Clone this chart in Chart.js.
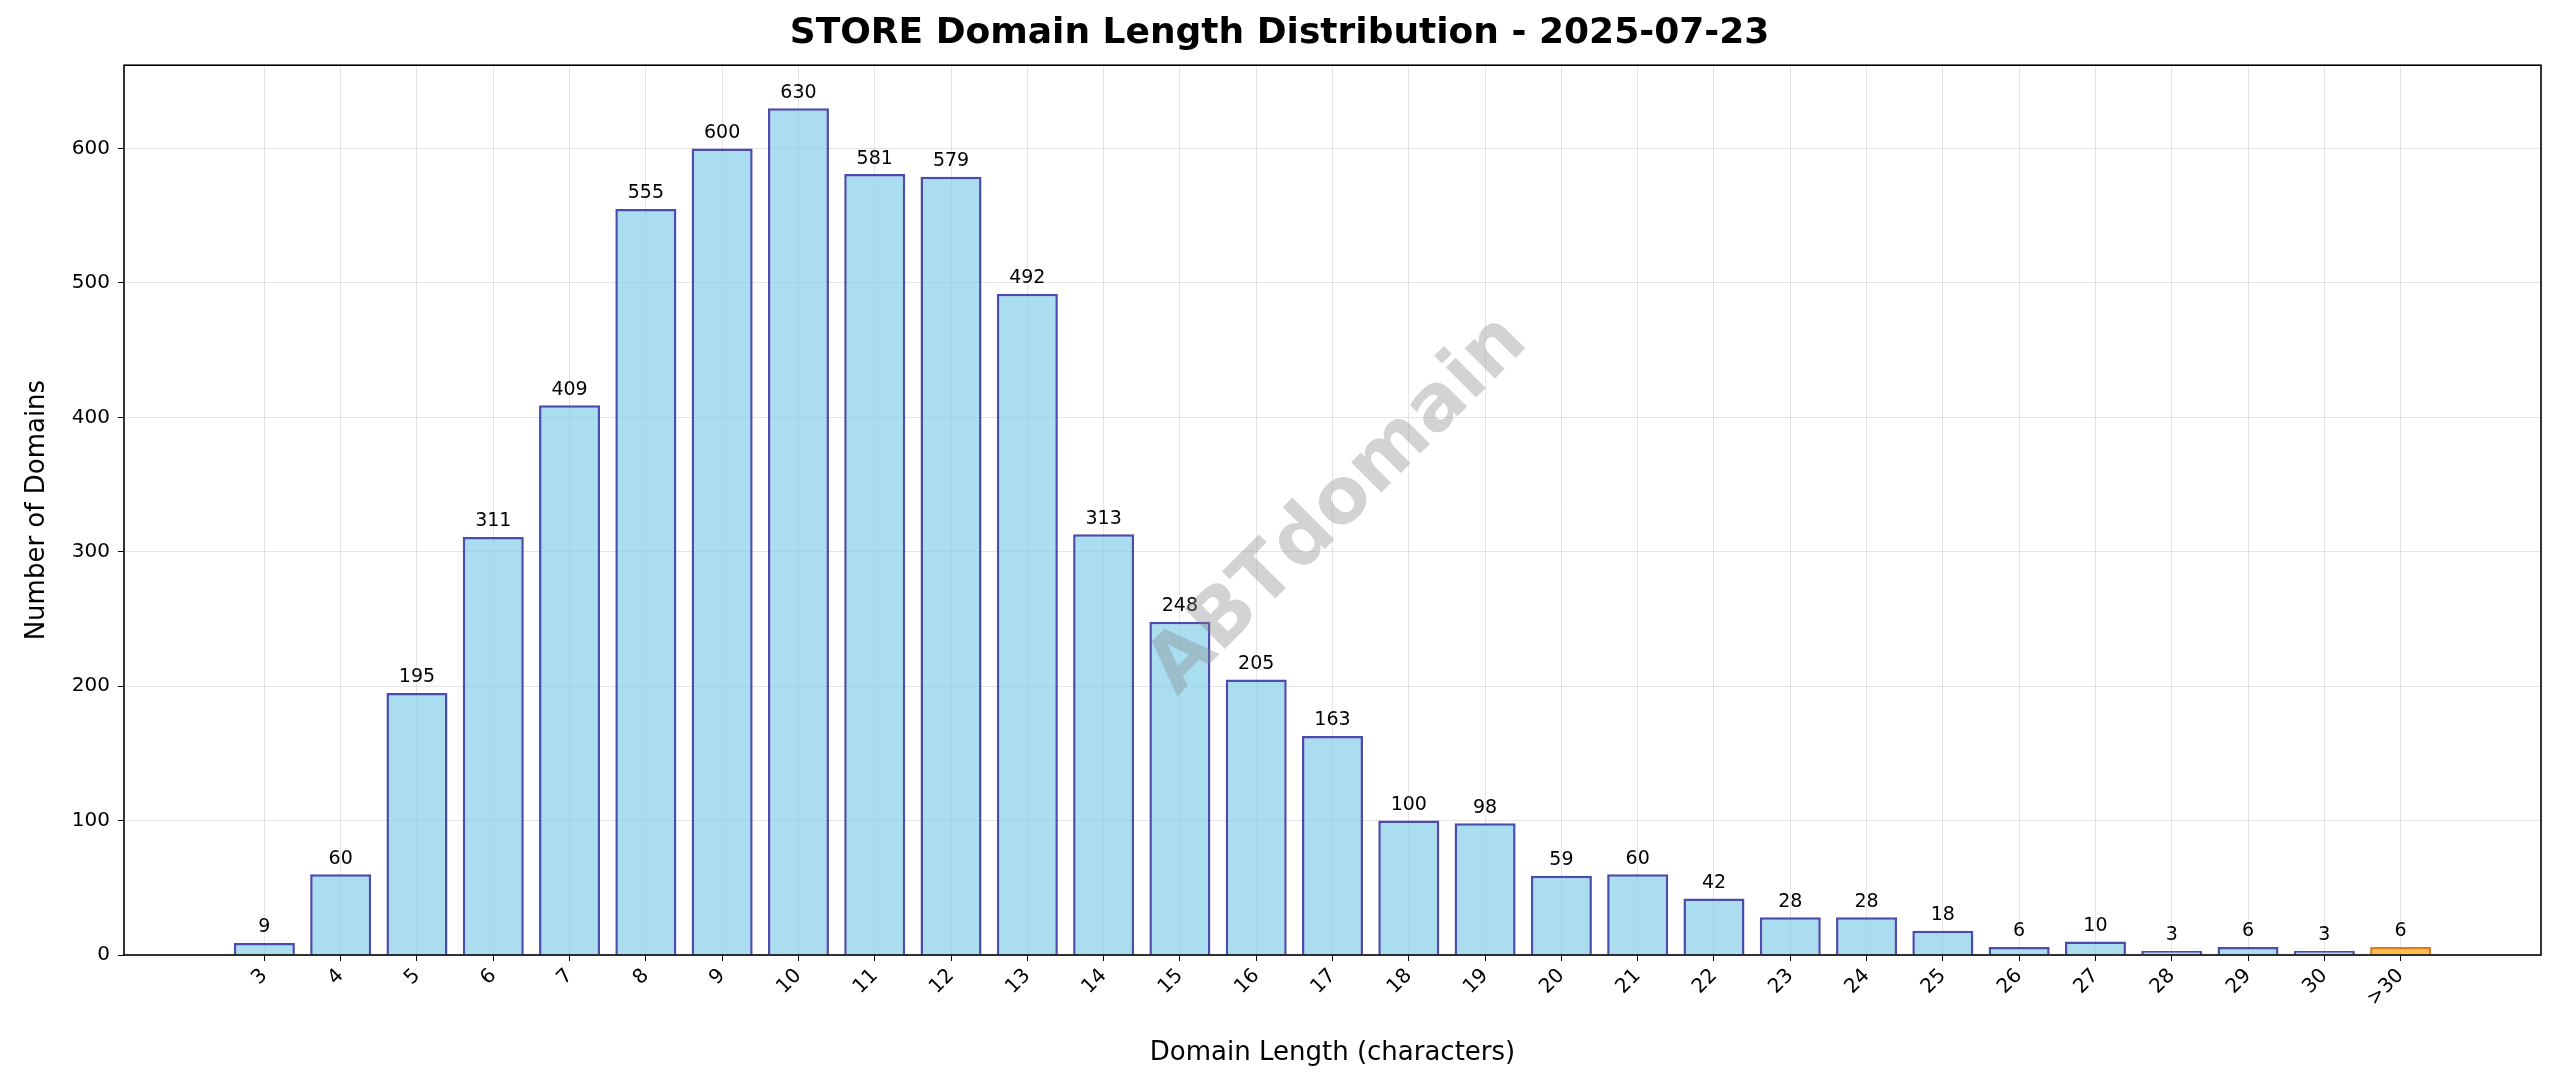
<!DOCTYPE html>
<html><head><meta charset="utf-8">
<script src="https://cdn.jsdelivr.net/npm/chart.js@4/dist/chart.umd.min.js"></script>
<style>html,body{margin:0;padding:0;background:#fff}#w{width:2560px;height:1087px}</style>
</head><body><div id="w"><canvas id="c"></canvas></div>
<script>
const categories = ["3","4","5","6","7","8","9","10","11","12","13","14","15","16","17","18","19","20","21","22","23","24","25","26","27","28","29","30",">30"];
const counts = [9,60,195,311,409,555,600,630,581,579,492,313,248,205,163,100,98,59,60,42,28,28,18,6,10,3,6,3,6];
const yTicks = [0,100,200,300,400,500,600];

const FONT = "'DejaVu Sans', sans-serif";
const fills = categories.map(c => c === ">30" ? "rgba(255,165,0,0.7)" : "rgba(135,206,235,0.7)");
const borders = categories.map(c => c === ">30" ? "rgba(220,110,0,0.9)" : "rgba(0,0,139,0.7)");

const extras = {
  id: "extras",
  afterDatasetsDraw(chart) {
    const ctx = chart.ctx, meta = chart.getDatasetMeta(0);
    ctx.save();
    ctx.fillStyle = "#000";
    ctx.font = "19px " + FONT;
    ctx.textAlign = "center"; ctx.textBaseline = "bottom";
    meta.data.forEach((b, i) => ctx.fillText(String(counts[i]), b.x, b.y - 6));
    ctx.translate(1339, 506);
    ctx.rotate(-Math.PI / 4);
    ctx.font = "bold 78px " + FONT;
    ctx.fillStyle = "rgba(128,128,128,0.35)";
    ctx.textBaseline = "middle";
    ctx.fillText("ABTdomain", 0, 0);
    ctx.restore();
  },
  afterDraw(chart) {
    const a = chart.chartArea, ctx = chart.ctx;
    ctx.save(); ctx.strokeStyle = "#000"; ctx.lineWidth = 1.6;
    ctx.strokeRect(a.left, a.top, a.right - a.left, a.bottom - a.top);
    ctx.restore();
  }
};

new Chart(document.getElementById("c"), {
  type: "bar",
  data: {
    datasets: [{
      data: counts.map((v, i) => ({ x: i, y: v })),
      backgroundColor: fills, borderColor: borders, borderWidth: 2.5,
      barPercentage: 0.8, categoryPercentage: 1.0
    }]
  },
  options: {
    responsive: true, maintainAspectRatio: false, animation: false,
    layout: { padding: { left: 18, right: 19, top: 0, bottom: 14 } },
    plugins: {
      legend: { display: false }, tooltip: { enabled: false },
      title: { display: true, text: "STORE Domain Length Distribution - 2025-07-23",
        font: { family: FONT, size: 36, weight: "bold" }, color: "#000", padding: { top: 12, bottom: 10 } }
    },
    scales: {
      x: {
        type: "linear", min: -1.84, max: 29.84, offset: false,
        afterBuildTicks(s) { s.ticks = categories.map((_, i) => ({ value: i })); },
        afterFit(s) { s.height = 118; },
        ticks: { callback: v => categories[v], maxRotation: 45, minRotation: 45, autoSkip: false,
          font: { family: FONT, size: 20 }, color: "#000" },
        grid: { offset: false, color: "rgba(0,0,0,0.1)", drawTicks: true, tickLength: 6, tickColor: "#000" },
        border: { display: false },
        title: { display: true, text: "Domain Length (characters)", font: { family: FONT, size: 26 }, color: "#000", padding: { top: 4 } }
      },
      y: {
        min: 0, max: 662,
        afterBuildTicks(s) { s.ticks = yTicks.map(v => ({ value: v })); },
        afterFit(s) { s.width = 106; },
        ticks: { font: { family: FONT, size: 20 }, color: "#000", padding: 8 },
        grid: { color: "rgba(0,0,0,0.1)", tickLength: 6, tickColor: "#000" },
        border: { display: false },
        title: { display: true, text: "Number of Domains", font: { family: FONT, size: 26 }, color: "#000" }
      }
    }
  },
  plugins: [extras]
});
</script></body></html>
